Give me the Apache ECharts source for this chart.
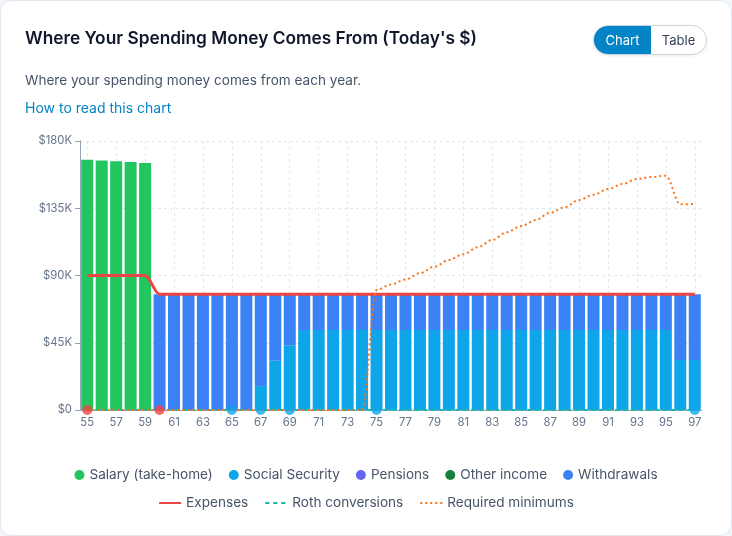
<!DOCTYPE html>
<html>
<head>
<meta charset="utf-8">
<script src="https://cdn.jsdelivr.net/npm/echarts@6/dist/echarts.min.js"></script>
<style>
  html, body { margin:0; padding:0; background:#f1f5f9; }
  body { width:732px; height:536px; position:relative; overflow:hidden; font-family: Inter, "Noto Sans", sans-serif; }
  #card { position:absolute; left:0; top:0; width:730px; height:534px; background:#fff; border:1px solid #e2e8f0; border-radius:12px; }
  #chart { position:absolute; left:0; top:0; width:732px; height:536px; }
  .title { position:absolute; left:25px; top:27px; font-size:17.3px; font-weight:600; color:#0f172a; line-height:22px; white-space:nowrap; }
  .sub { position:absolute; left:25px; top:71px; font-size:13.6px; color:#475569; line-height:18px; white-space:nowrap; }
  .link { position:absolute; left:25px; top:99px; font-size:14px; color:#0284c7; line-height:18px; white-space:nowrap; }
  .toggle { position:absolute; left:593px; top:25px; width:112px; height:28px; border:1px solid #cbd5e1; border-radius:15px; overflow:hidden; display:flex; box-shadow:0 1px 3px rgba(15,23,42,0.08); background:#fff; }
  .toggle div { font-size:13px; line-height:28px; text-align:center; }
  .on { width:57px; background:#0284c7; color:#fff; }
  .off { width:55px; color:#334155; }
</style>
</head>
<body>
<div id="card"></div>
<div id="chart"></div>
<div class="title">Where Your Spending Money Comes From (Today's $)</div>
<div class="sub">Where your spending money comes from each year.</div>
<div class="link">How to read this chart</div>
<div class="toggle"><div class="on">Chart</div><div class="off">Table</div></div>
<script>
const ages = ['55','56','57','58','59','60','61','62','63','64','65','66','67','68','69','70','71','72','73','74','75','76','77','78','79','80','81','82','83','84','85','86','87','88','89','90','91','92','93','94','95','96','97'];

const salary = [167500,167000,166500,166000,165200,0,0,0,0,0,0,0,0,0,0,0,0,0,0,0,0,0,0,0,0,0,0,0,0,0,0,0,0,0,0,0,0,0,0,0,0,0,0];
const socialSecurity = [0,0,0,0,0,0,0,0,0,0,0,0,16000,33200,43300,53500,53500,53500,53500,53500,53500,53500,53500,53500,53500,53500,53500,53500,53500,53500,53500,53500,53500,53500,53500,53500,53500,53500,53500,53500,53500,33500,33500];
const pensions = [0,0,0,0,0,0,0,0,0,0,0,0,0,0,0,0,0,0,0,0,0,0,0,0,0,0,0,0,0,0,0,0,0,0,0,0,0,0,0,0,0,0,0];
const otherIncome = [0,0,0,0,0,0,0,0,0,0,0,0,0,0,0,0,0,0,0,0,0,0,0,0,0,0,0,0,0,0,0,0,0,0,0,0,0,0,0,0,0,0,0];
const withdrawals = [0,0,0,0,0,77500,77500,77500,77500,77500,77500,77500,61500,44300,34200,24000,24000,24000,24000,24000,24000,24000,24000,24000,24000,24000,24000,24000,24000,24000,24000,24000,24000,24000,24000,24000,24000,24000,24000,24000,24000,44000,44000];
const expenses = [90000,90000,90000,90000,90000,77500,77500,77500,77500,77500,77500,77500,77500,77500,77500,77500,77500,77500,77500,77500,77500,77500,77500,77500,77500,77500,77500,77500,77500,77500,77500,77500,77500,77500,77500,77500,77500,77500,77500,77500,77500,77500,77500];
const rothConversions = [0,0,0,0,0,0,0,0,0,0,0,0,0,0,0,0,0,0,0,0,0,0,0,0,0,0,0,0,0,0,0,0,0,0,0,0,0,0,0,0,0,0,0];
const requiredMinimums = [0,0,0,0,0,0,0,0,0,0,0,0,0,0,0,0,0,0,0,0,80300,84000,87400,91500,95900,100400,104200,108900,113800,118900,123100,127100,132000,135600,140500,144000,147900,151200,154600,155900,156800,137600,138000];

const yTicks = [0, 45000, 90000, 135000, 180000];
const yTickLabels = ['$0', '$45K', '$90K', '$135K', '$180K'];

const expenseMarkerAges = ['55','60'];
const incomeMarkerAges = ['65','67','69','75','97'];

const C = {
  salary:'#22c55e', ss:'#0ea5e9', pensions:'#6366f1', other:'#15803d', withdrawals:'#3b82f6',
  expenses:'#ef4444', roth:'#14b8a6', rmd:'#f97316'
};

const chart = echarts.init(document.getElementById('chart'), null, {renderer:'canvas'});
const font = 'Inter, "Noto Sans", sans-serif';
const barCommon = { type:'bar', stack:'income', barCategoryGap:'17%', emphasis:{disabled:true} };

chart.setOption({
  animation:false,
  textStyle:{fontFamily:font},
  grid:{left:80, right:30, top:141, bottom:126, containLabel:false},
  legend:[
    {
      data:['Salary (take-home)','Social Security','Pensions','Other income','Withdrawals'],
      top:463, left:'center', icon:'circle', itemWidth:10, itemHeight:10, itemGap:16,
      textStyle:{fontSize:13.6, color:'#475569', fontFamily:font}
    },
    {
      data:['Expenses','Roth conversions','Required minimums'],
      top:491, left:'center', itemWidth:22, itemHeight:10, itemGap:16,
      itemStyle:{opacity:0},
      textStyle:{fontSize:13.6, color:'#475569', fontFamily:font}
    }
  ],
  xAxis:{
    type:'category', data:ages, boundaryGap:true,
    axisLine:{lineStyle:{color:'#94a3b8', width:1}},
    axisTick:{alignWithLabel:true, interval:1, length:5, lineStyle:{color:'#94a3b8'}},
    axisLabel:{interval:1, color:'#64748b', fontSize:11.3, margin:7, fontFamily:font},
    splitLine:{show:true, interval:1, alignWithLabel:true, lineStyle:{color:'#e2e8f0', type:[3,3]}}
  },
  yAxis:{
    type:'value', min:yTicks[0], max:yTicks[yTicks.length-1], interval:yTicks[1]-yTicks[0],
    axisLine:{show:true, lineStyle:{color:'#94a3b8'}},
    axisTick:{show:true, length:5, lineStyle:{color:'#94a3b8'}},
    axisLabel:{color:'#64748b', fontSize:11.3, margin:8, fontFamily:font,
      formatter:v => yTickLabels[yTicks.indexOf(v)]},
    splitLine:{show:true, lineStyle:{color:'#e2e8f0', type:[3,3]}}
  },
  series:[
    Object.assign({name:'Salary (take-home)', data:salary, itemStyle:{color:C.salary}}, barCommon),
    Object.assign({name:'Social Security', data:socialSecurity, itemStyle:{color:C.ss}}, barCommon),
    Object.assign({name:'Pensions', data:pensions, itemStyle:{color:C.pensions}}, barCommon),
    Object.assign({name:'Other income', data:otherIncome, itemStyle:{color:C.other}}, barCommon),
    Object.assign({name:'Withdrawals', data:withdrawals, itemStyle:{color:C.withdrawals}}, barCommon),
    {name:'Expenses', type:'line', data:expenses, smooth:0.35, smoothMonotone:'x', showSymbol:false, symbol:'none', clip:false,
      lineStyle:{color:C.expenses, width:3}, itemStyle:{color:C.expenses}, z:4},
    {name:'Roth conversions', type:'line', data:rothConversions, showSymbol:false, symbol:'none', clip:false,
      lineStyle:{color:C.roth, width:2, type:[4,4]}, itemStyle:{color:C.roth}, z:4},
    {name:'Required minimums', type:'line', data:requiredMinimums, smooth:0.35, smoothMonotone:'x', showSymbol:false, symbol:'none', clip:false,
      lineStyle:{color:C.rmd, width:2, type:[2,3]}, itemStyle:{color:C.rmd}, z:4},
    {name:'events', type:'scatter', symbol:'circle', symbolSize:10, z:6, clip:false,
      data: expenseMarkerAges.map(a => ({value:[a,0], itemStyle:{color:C.expenses}}))
        .concat(incomeMarkerAges.map(a => ({value:[a,0], itemStyle:{color:C.ss}})))}
  ]
});
</script>
</body>
</html>
